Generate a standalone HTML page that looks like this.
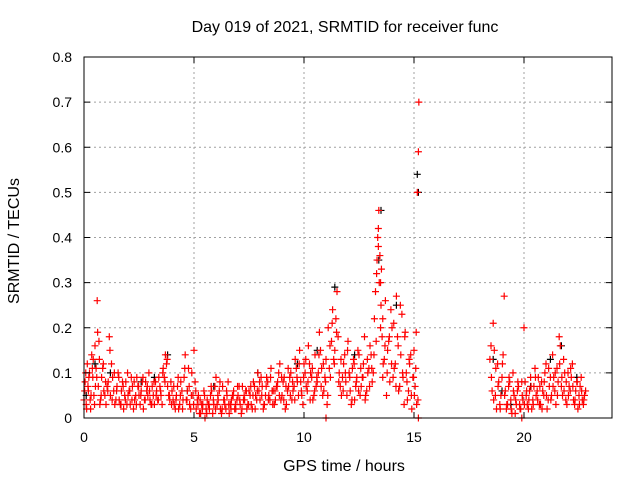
<!DOCTYPE html>
<html><head><meta charset="utf-8"><style>
body{margin:0;background:#fff;}
svg{display:block;font-family:"Liberation Sans",sans-serif;}
</style></head><body>
<svg id="chart" width="640" height="480" xmlns="http://www.w3.org/2000/svg">
<rect width="640" height="480" fill="#fff"/>
<g id="grid"></g>
<g id="marks"></g>
<rect x="84" y="57" width="528" height="361" fill="none" stroke="#000" stroke-width="1"/>
<g id="ticks"></g>
<text x="345" y="32" font-size="16" text-anchor="middle">Day 019 of 2021, SRMTID for receiver func</text>
<text x="344" y="471" font-size="16" text-anchor="middle">GPS time / hours</text>
<text transform="translate(19,241) rotate(-90)" font-size="16" text-anchor="middle">SRMTID / TECUs</text>
</svg>
<script>
const xTicks=[0,5,10,15,20];
const yTicks=[0,0.1,0.2,0.3,0.4,0.5,0.6,0.7,0.8];
const yTickLabels=["0","0.1","0.2","0.3","0.4","0.5","0.6","0.7","0.8"];
const redTimes=[0.0,0.05,0.1,0.15,0.2,0.25,0.3,0.35,0.4,0.45,0.5,0.55,0.6,0.65,0.7,0.75,0.8,0.9,1.0,1.1,1.15,1.2,1.3,1.4,1.5,1.6,1.7,1.8,1.9,2.0,2.1,2.2,2.3,2.4,2.5,2.6,2.7,2.8,2.9,3.0,3.1,3.2,3.3,3.4,3.5,3.6,3.7,3.8,3.9,4.0,4.1,4.2,4.3,4.4,4.5,4.6,4.7,4.8,4.9,5.0,
5.1,5.2,5.3,5.4,5.5,5.6,5.7,5.8,5.9,6.0,6.1,6.2,6.3,6.4,6.5,6.6,6.7,6.8,6.9,7.0,7.1,7.2,7.3,7.4,7.5,7.6,7.7,7.8,7.9,8.0,8.1,8.2,8.3,8.4,8.5,8.6,8.7,8.8,8.9,9.0,9.1,9.2,9.3,9.4,9.5,9.6,9.7,9.8,9.9,10.0,10.1,10.2,10.3,10.4,10.5,10.6,10.7,10.8,10.9,11.0,11.1,11.2,11.3,11.4,11.5,11.6,11.7,11.8,11.9,12.0,12.1,12.2,12.3,12.4,12.5,12.6,12.7,12.8,12.9,13.0,13.1,13.2,13.3,13.35,13.4,13.45,13.5,13.55,13.6,13.7,13.8,13.9,14.0,14.1,14.2,14.3,14.4,14.5,14.6,14.7,14.8,14.9,15.0,15.05,15.1,15.15,15.2,15.22,
18.5,18.6,18.7,18.8,18.9,19.0,19.1,19.2,19.3,19.4,19.5,19.6,19.7,19.8,19.9,20.0,20.1,20.2,20.3,20.4,20.5,20.6,20.7,20.8,20.9,21.0,21.1,21.2,21.3,21.4,21.5,21.6,21.7,21.8,21.9,22.0,22.1,22.2,22.3,22.4,22.5,22.6,22.7,22.8];
const redValues=[.04,.08,.03,.12,.06,.10,.02,.14,.09,.05,.16,.11,.26,.07,.13,.04,.09,.06,.03,.08,.18,.05,.09,.03,.07,.04,.06,.02,.08,.05,.03,.07,.04,.09,.05,.06,.02,.08,.05,.04,.07,.03,.06,.09,.05,.11,.14,.07,.04,.06,.03,.05,.02,.08,.04,.14,.06,.03,.10,.15,
.02,.05,.01,.03,.00,.04,.02,.06,.03,.09,.04,.02,.07,.03,.05,.01,.04,.06,.02,.05,.03,.07,.04,.02,.06,.03,.08,.05,.10,.04,.07,.03,.09,.05,.11,.06,.04,.08,.12,.05,.09,.03,.07,.10,.06,.13,.08,.15,.05,.12,.07,.16,.10,.04,.14,.08,.19,.11,.06,.13,.20,.09,.24,.15,.28,.10,.05,.12,.08,.17,.06,.11,.04,.09,.14,.07,.12,.05,.10,.16,.08,.22,.32,.40,.46,.36,.25,.18,.12,.26,.15,.08,.20,.11,.27,.06,.14,.09,.19,.04,.12,.02,.15,.07,.19,.50,.59,.70,
.16,.21,.05,.12,.03,.09,.27,.02,.07,.04,.10,.01,.06,.03,.08,.20,.05,.02,.09,.04,.11,.06,.03,.08,.05,.12,.04,.09,.14,.06,.11,.18,.07,.13,.04,.10,.06,.12,.03,.08,.05,.09,.03,.06];
const red2Times=[0.03,0.12,0.22,0.32,0.42,0.52,0.62,0.72,0.85,0.95,1.05,1.25,1.35,1.45,1.55,1.65,1.75,1.85,1.95,2.05,2.15,2.25,2.35,2.45,2.55,2.65,2.75,2.85,2.95,3.05,3.15,3.25,3.35,3.45,3.55,3.65,3.75,3.85,3.95,4.05,4.15,4.25,4.35,4.45,4.55,4.65,4.75,4.85,4.95,5.05,5.15,5.25,5.35,5.45,5.55,5.65,5.75,5.85,5.95,6.05,6.15,6.25,6.35,6.45,6.55,6.65,6.75,6.85,6.95,7.05,7.15,7.25,7.35,7.45,7.55,7.65,7.75,7.85,7.95,8.05,8.15,8.25,8.35,8.45,8.55,8.65,8.75,8.85,8.95,9.05,9.15,9.25,9.35,9.45,9.55,9.65,9.75,9.85,9.95,10.05,10.15,10.25,10.35,10.45,10.55,10.65,10.75,10.85,10.95,11.05,11.15,11.25,11.35,11.45,11.55,11.65,11.75,11.85,11.95,12.05,12.15,12.25,12.35,12.45,12.55,12.65,12.75,12.85,12.95,13.05,13.15,13.25,13.32,13.38,13.42,13.48,13.52,13.58,13.65,13.75,13.85,13.95,14.05,14.15,14.25,14.35,14.45,14.55,14.65,14.75,14.85,14.95,15.02,15.12,
18.45,18.55,18.65,18.75,18.85,18.95,19.05,19.15,19.25,19.35,19.45,19.55,19.65,19.75,19.85,19.95,20.05,20.15,20.25,20.35,20.45,20.55,20.65,20.75,20.85,20.95,21.05,21.15,21.25,21.35,21.45,21.55,21.65,21.75,21.85,21.95,22.05,22.15,22.25,22.35,22.45,22.55,22.65,22.75];
const red2Values=[.06,.02,.09,.05,.13,.07,.19,.03,.11,.05,.07,.12,.06,.04,.10,.03,.08,.05,.03,.06,.09,.02,.05,.07,.03,.08,.04,.06,.10,.03,.05,.08,.04,.07,.03,.09,.12,.05,.08,.04,.02,.07,.03,.06,.09,.04,.11,.02,.05,.08,
.04,.01,.03,.06,.02,.03,.05,.01,.07,.03,.06,.01,.04,.02,.08,.03,.05,.02,.04,.07,.01,.04,.06,.03,.05,.02,.07,.04,.06,.09,.02,.05,.08,.04,.06,.03,.07,.10,.04,.08,.02,.06,.09,.04,.07,.11,.05,.08,.03,.10,.06,.12,.09,.05,.07,.10,.15,.05,.09,.03,.11,.17,.13,.22,.18,.07,.09,.14,.05,.10,.03,.13,.07,.15,.05,.09,.18,.06,.11,.14,.10,.28,.35,.42,.30,.20,.33,.09,.13,.05,.17,.24,.09,.12,.18,.07,.23,.03,.10,.06,.14,.09,.05,.03,
.13,.06,.15,.02,.08,.05,.14,.06,.03,.08,.01,.05,.03,.07,.02,.04,.08,.03,.06,.02,.07,.05,.09,.03,.06,.10,.02,.07,.05,.09,.03,.08,.16,.05,.10,.03,.07,.09,.04,.06,.02,.07,.04,.05];
const red3Times=[0.08,0.18,0.28,0.38,0.48,0.58,0.68,0.78,0.88,0.98,1.08,1.18,1.28,1.38,1.48,1.58,1.68,1.78,1.88,1.98,2.08,2.18,2.28,2.38,2.48,2.58,2.68,2.78,2.88,2.98,3.08,3.18,3.28,3.38,3.48,3.58,3.68,3.78,3.88,3.98,4.08,4.18,4.28,4.38,4.48,4.58,4.68,4.78,4.88,4.98,5.08,5.18,5.28,5.38,5.48,5.58,5.68,5.78,5.88,5.98,6.08,6.18,6.28,6.38,6.48,6.58,6.68,6.78,6.88,6.98,7.08,7.18,7.28,7.38,7.48,7.58,7.68,7.78,7.88,7.98,8.08,8.18,8.28,8.38,8.48,8.58,8.68,8.78,8.88,8.98,9.08,9.18,9.28,9.38,9.48,9.58,9.68,9.78,9.88,9.98,10.08,10.18,10.28,10.38,10.48,10.58,10.68,10.78,10.88,10.98,11.08,11.18,11.28,11.38,11.48,11.58,11.68,11.78,11.88,11.98,12.08,12.18,12.28,12.38,12.48,12.58,12.68,12.78,12.88,12.98,13.08,13.18,13.28,13.38,13.48,13.58,13.68,13.78,13.88,13.98,14.08,14.18,14.28,14.38,14.48,14.58,14.68,14.78,14.88,14.98,15.08,15.18,
18.52,18.62,18.72,18.82,18.92,19.02,19.12,19.22,19.32,19.42,19.52,19.62,19.72,19.82,19.92,20.02,20.12,20.22,20.32,20.42,20.52,20.62,20.72,20.82,20.92,21.02,21.12,21.22,21.32,21.42,21.52,21.62,21.72,21.82,21.92,22.02,22.12,22.22,22.32,22.42,22.52,22.62,22.72,11.0,15.2,19.9];
const red3Values=[.10,.07,.04,.11,.03,.09,.17,.05,.12,.08,.06,.15,.04,.10,.06,.09,.03,.07,.04,.10,.06,.04,.08,.03,.07,.05,.09,.04,.07,.06,.03,.08,.05,.04,.06,.10,.08,.13,.05,.03,.07,.04,.09,.05,.02,.11,.04,.07,.05,.03,
.06,.03,.04,.02,.05,.01,.03,.07,.04,.02,.05,.08,.02,.04,.06,.03,.02,.05,.03,.07,.04,.02,.05,.06,.03,.07,.05,.02,.06,.08,.05,.03,.07,.04,.09,.03,.06,.07,.05,.09,.04,.07,.11,.05,.08,.04,.09,.12,.06,.09,.13,.08,.04,.11,.06,.09,.14,.07,.12,.08,.05,.16,.21,.12,.19,.08,.13,.06,.10,.15,.09,.04,.12,.08,.06,.11,.09,.04,.13,.07,.11,.14,.17,.38,.30,.22,.16,.10,.18,.12,.21,.07,.16,.25,.10,.18,.08,.13,.05,.09,.11,.04,
.09,.04,.11,.07,.02,.12,.05,.03,.09,.02,.06,.04,.08,.02,.05,.03,.06,.04,.07,.03,.09,.04,.07,.02,.08,.05,.11,.04,.07,.10,.05,.12,.09,.06,.08,.05,.11,.07,.04,.08,.03,.06,.04,0,0,0];
const blackTimes=[0.1,0.5,1.2,2.6,3.2,3.8,4.7,5.9,7.9,9.7,10.6,11.4,12.3,13.4,13.5,14.2,15.15,15.2,18.6,19.0,19.4,20.3,21.2,21.7,22.4];
const blackValues=[.05,.12,.10,.08,.09,.14,.06,.07,.10,.12,.15,.29,.14,.35,.46,.25,.54,.50,.13,.06,.03,.07,.13,.16,.09];

const NS="http://www.w3.org/2000/svg";
const X0=84,X1=612,Y0=418,Y1=57;
const xs=t=>X0+(t/24)*(X1-X0);
const ys=v=>Y0-(v/0.8)*(Y0-Y1);
function mk(tag,a){const e=document.createElementNS(NS,tag);for(const k in a)e.setAttribute(k,a[k]);return e;}
const grid=document.getElementById('grid'),ticks=document.getElementById('ticks'),marks=document.getElementById('marks');
xTicks.forEach((t,i)=>{
  const x=xs(t);
  if(i>0){const g=mk('line',{x1:x,x2:x,y1:Y1,y2:Y0,stroke:'#a0a0a0','stroke-dasharray':'2,3'});
  
  grid.appendChild(g);}
  const a=mk('line',{x1:x,x2:x,y1:Y0,y2:Y0-6,stroke:'#000'});
  
  ticks.appendChild(a);
  const b=mk('line',{x1:x,x2:x,y1:Y1,y2:Y1+6,stroke:'#000'});
  
  ticks.appendChild(b);
  const l=mk('text',{x:x,y:442,'font-size':14,'text-anchor':'middle'});l.textContent=String(t);
  
  ticks.appendChild(l);
});
yTicks.forEach((v,i)=>{
  const y=ys(v);
  if(i>0&&i<yTicks.length-1){const g=mk('line',{x1:X0,x2:X1,y1:y,y2:y,stroke:'#a0a0a0','stroke-dasharray':'2,3'});
  
  grid.appendChild(g);}
  const a=mk('line',{x1:X0,x2:X0+6,y1:y,y2:y,stroke:'#000'});
  
  ticks.appendChild(a);
  const b=mk('line',{x1:X1,x2:X1-6,y1:y,y2:y,stroke:'#000'});
  
  ticks.appendChild(b);
  const l=mk('text',{x:72,y:y+5,'font-size':14,'text-anchor':'end'});l.textContent=yTickLabels[i];
  
  ticks.appendChild(l);
});
function plus(t,v,color,name){
  const x=xs(t),y=ys(v);
  const p=mk('path',{d:`M${x-3.5},${y}H${x+3.5}M${x},${y-3.5}V${y+3.5}`,stroke:color,'stroke-width':1.2,fill:'none'});
  
  
  marks.appendChild(p);
}
blackTimes.forEach((t,i)=>plus(t,blackValues[i],'#000','black-point'));
redTimes.forEach((t,i)=>plus(t,redValues[i],'#ff0000','red-point'));
red2Times.forEach((t,i)=>plus(t,red2Values[i],'#ff0000','red-point'));
red3Times.forEach((t,i)=>plus(t,red3Values[i],'#ff0000','red-point'));
</script>
</body></html>
